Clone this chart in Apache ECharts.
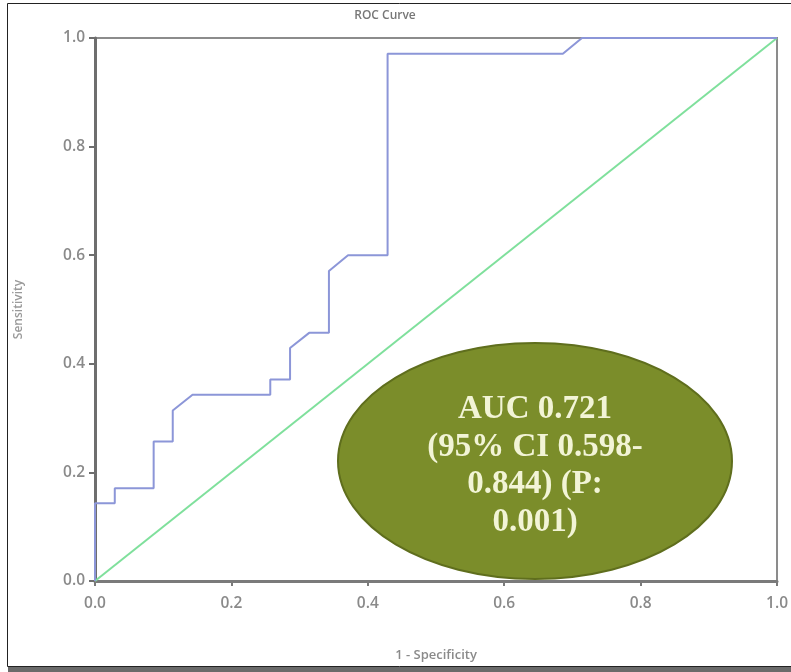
<!DOCTYPE html>
<html>
<head>
<meta charset="utf-8">
<script src="https://cdn.jsdelivr.net/npm/echarts@6/dist/echarts.min.js"></script>
<style>html,body{margin:0;padding:0;background:#fff}#c{width:791px;height:672px}</style>
</head>
<body>
<div id="c"></div>
<script>
// ROC curve values
const fpr = [0, 0, 0.029, 0.029, 0.086, 0.086, 0.114, 0.114, 0.143, 0.257, 0.257, 0.286, 0.286, 0.314, 0.343, 0.343, 0.371, 0.429, 0.429, 0.686, 0.714, 1.0];
const tpr = [0, 0.143, 0.143, 0.171, 0.171, 0.257, 0.257, 0.314, 0.343, 0.343, 0.371, 0.371, 0.429, 0.457, 0.457, 0.571, 0.6, 0.6, 0.971, 0.971, 1.0, 1.0];
const refX = [0, 1];
const refY = [0, 1];
const tickLabels = ['0.0', '0.2', '0.4', '0.6', '0.8', '1.0'];
const annotationLines = ['AUC 0.721', '(95% CI 0.598-', '0.844) (P:', '0.001)'];

const chart = echarts.init(document.getElementById('c'));
const axisLabelStyle = {color: '#8a8a8a', fontFamily: 'Open Sans', fontSize: 15.5, fontWeight: 600};
const fmt = v => tickLabels[Math.round(v * 5)];
chart.setOption({
  animation: false,
  backgroundColor: '#fff',
  title: {
    text: 'ROC Curve', left: 380, top: 5, textAlign: 'center',
    textStyle: {color: '#777', fontFamily: 'Open Sans', fontSize: 12, fontWeight: 600}
  },
  grid: {left: 95, right: 10, top: 38, bottom: 91, show: true, borderColor: '#8c8c8c', borderWidth: 2, backgroundColor: 'transparent'},
  xAxis: {
    type: 'value', min: 0, max: 1, interval: 0.2,
    name: '1 - Specificity', nameLocation: 'middle', nameGap: 68,
    nameTextStyle: {color: '#8a8a8a', fontFamily: 'Open Sans', fontSize: 13, fontWeight: 600},
    axisLine: {lineStyle: {color: '#7a7a7a', width: 3}},
    axisTick: {show: true, length: 5, lineStyle: {color: '#7a7a7a', width: 2}},
    axisLabel: Object.assign({formatter: fmt, margin: 15}, axisLabelStyle),
    splitLine: {show: false}
  },
  yAxis: {
    type: 'value', min: 0, max: 1, interval: 0.2,
    name: 'Sensitivity', nameLocation: 'middle', nameGap: 70, nameRotate: 90,
    nameTextStyle: {color: '#9a9a9a', fontFamily: 'Open Sans', fontSize: 12, fontWeight: 600},
    axisLine: {lineStyle: {color: '#6e6e6e', width: 3}},
    axisTick: {show: true, length: 6, lineStyle: {color: '#6e6e6e', width: 2}},
    axisLabel: Object.assign({formatter: fmt, margin: 10}, axisLabelStyle),
    splitLine: {show: false}
  },
  series: [
    {
      type: 'line', showSymbol: false, silent: true,
      data: refX.map((x, i) => [x, refY[i]]),
      lineStyle: {color: '#7fe09c', width: 2}, z: 2
    },
    {
      type: 'line', showSymbol: false, silent: true,
      data: fpr.map((x, i) => [x, tpr[i]]),
      lineStyle: {color: '#8c96d8', width: 2}, z: 3
    }
  ],
  graphic: [
    {type: 'rect', shape: {x: 7.5, y: 3.5, width: 800, height: 663}, style: {fill: 'none', stroke: '#222', lineWidth: 1}, z: 0},
    {type: 'rect', shape: {x: 8, y: 667, width: 800, height: 5}, style: {fill: '#6a6a6a'}, z: 0},
    {type: 'ellipse', shape: {cx: 535, cy: 461, rx: 197, ry: 118}, style: {fill: '#7b8d2a', stroke: '#5f6e1d', lineWidth: 2}, z: 100},
    {
      type: 'text', x: 535, y: 391, z: 101,
      style: {
        text: annotationLines.join('\n'), align: 'center', verticalAlign: 'top',
        fill: '#f2f4d6', font: 'bold 33px "Liberation Serif"', lineHeight: 37.5
      }
    }
  ]
});
</script>
</body>
</html>
